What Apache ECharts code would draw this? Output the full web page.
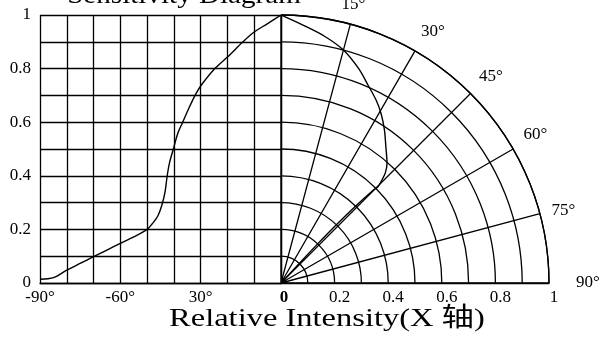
<!DOCTYPE html>
<html><head><meta charset="utf-8">
<script src="https://cdn.jsdelivr.net/npm/echarts@6/dist/echarts.min.js"></script>
<style>html,body{margin:0;padding:0;background:#fff}#c{width:600px;height:342px}</style>
</head><body><div id="c"></div>
<script>
// ---- data ----
const leftAngles = [-90,-87,-84,-80,-75,-70,-65,-60,-55,-50,-48,-46,-44.5,-43.3,-42.5,-41.6,-40.2,-38.5,-36.7,-34.5,-32.1,-30,-24.7,-20,-14.2,-10.5,-5,0];
const leftValues = [0.014,0.016,0.024,0.048,0.073,0.098,0.123,0.148,0.172,0.2,0.222,0.25,0.29,0.34,0.40,0.45,0.5,0.56,0.6,0.65,0.7,0.735,0.8,0.843,0.9,0.933,0.968,1];
const polarAngles = [0,5,10,15,20,23.7,27.4,30.5,34,37.7,41.5,43.5,44.5,45.2,44.8,44.2,43.5,43.1,43,43];
const polarRadii = [1,0.965,0.935,0.9,0.85,0.807,0.77,0.735,0.69,0.64,0.597,0.565,0.535,0.51,0.488,0.41,0.3,0.2,0.1,0];
const xLabelValues = [-90,-60,-30,0];
const xLabelTexts = ['-90°','-60°','30°','0'];
const yLabelValues = [0,0.2,0.4,0.6,0.8,1];
const yLabelTexts = ['0','0.2','0.4','0.6','0.8','1'];
const rLabelValues = [0.2,0.4,0.6,0.8,1];
const rLabelTexts = ['0.2','0.4','0.6','0.8','1'];
const angleLabelValues = [15,30,45,60,75,90];
const angleLabelTexts = ['15°','30°','45°','60°','75°','90°'];
const titleText = 'Sensitivity Diagram';
const axisTitleText = 'Relative Intensity(X 轴)';

// ---- chart ----
const FONT = '"Liberation Serif", "Times New Roman", serif';
const FS = 17;
const line = {color:'#000', width:1.3};
function lookup(vals, texts, v){
  const i = vals.findIndex(a => Math.abs(a - v) < 1e-6);
  return i < 0 ? '' : texts[i];
}
const chart = echarts.init(document.getElementById('c'), null, {renderer:'canvas'});
chart.setOption({
  animation:false,
  backgroundColor:'#fff',
  textStyle:{fontFamily:FONT, color:'#000'},
  grid:[
    {left:40, top:15, width:241, height:268},
    {left:281, top:15, width:268, height:268}
  ],
  xAxis:[
    {gridIndex:0, type:'value', min:-90, max:0, interval:10,
     axisLine:{show:true, lineStyle:line}, axisTick:{show:false},
     splitLine:{show:true, showMinLine:true, showMaxLine:true, lineStyle:line},
     axisLabel:{margin:6, fontSize:FS, fontFamily:FONT, color:'#000',
       formatter:v => { const t = lookup(xLabelValues, xLabelTexts, v); return v === 0 ? '{b|' + t + '}' : t; },
       rich:{b:{fontWeight:'bold', fontSize:FS, fontFamily:FONT, padding:[0,0,0,6]}}}},
    {gridIndex:1, type:'value', min:0, max:1, interval:0.2,
     axisLine:{show:false}, axisTick:{show:false}, splitLine:{show:false},
     axisLabel:{margin:6, fontSize:FS, fontFamily:FONT, color:'#000', padding:[0,0,0,10],
       formatter:v => lookup(rLabelValues, rLabelTexts, v)}}
  ],
  yAxis:[
    {gridIndex:0, type:'value', min:0, max:1, interval:0.1,
     axisLine:{show:true, lineStyle:line}, axisTick:{show:false},
     splitLine:{show:true, showMinLine:true, showMaxLine:true, lineStyle:line},
     axisLabel:{margin:9, fontSize:FS, fontFamily:FONT, color:'#000',
       formatter:v => lookup(yLabelValues, yLabelTexts, v)}},
    {gridIndex:1, type:'value', min:0, max:1, show:false}
  ],
  polar:{center:[281,283], radius:268},
  angleAxis:{type:'value', min:0, max:90, interval:15, startAngle:0, endAngle:90, clockwise:false,
    axisLine:{show:true, lineStyle:line}, axisTick:{show:false},
    splitLine:{show:true, lineStyle:line},
    axisLabel:{margin:12, fontSize:FS, fontFamily:FONT, color:'#000',
      formatter:v => { const th = 90 - v; const t = lookup(angleLabelValues, angleLabelTexts, th); return th === 90 ? '{e|' + t + '}' : t; },
      rich:{e:{fontSize:FS, fontFamily:FONT, padding:[0,0,0,15]}}}},
  radiusAxis:{type:'value', min:0, max:1, interval:0.1,
    axisLine:{show:true, lineStyle:line}, axisTick:{show:false}, axisLabel:{show:false},
    splitLine:{show:true, lineStyle:line}},
  series:[
    {type:'line', xAxisIndex:0, yAxisIndex:0, showSymbol:false, smooth:0.3,
     lineStyle:{color:'#000', width:1.4},
     data:leftAngles.map((a,i) => [a, leftValues[i]])},
    {type:'line', coordinateSystem:'polar', showSymbol:false, smooth:0.3,
     lineStyle:{color:'#000', width:1.4},
     data:polarRadii.map((r,i) => [r, 90 - polarAngles[i]])}
  ],
  graphic:[
    {type:'text', x:184, y:-4, scaleX:1.12, silent:true,
     style:{text:titleText, font:'26px ' + FONT, fill:'#000', textAlign:'center', textVerticalAlign:'middle'}},
    {type:'text', x:327, y:319, scaleX:1.25, silent:true,
     style:{text:axisTitleText, font:'26px "Liberation Serif", "Noto Sans CJK SC", serif', fill:'#000', textAlign:'center', textVerticalAlign:'middle'}}
  ]
});
</script></body></html>
